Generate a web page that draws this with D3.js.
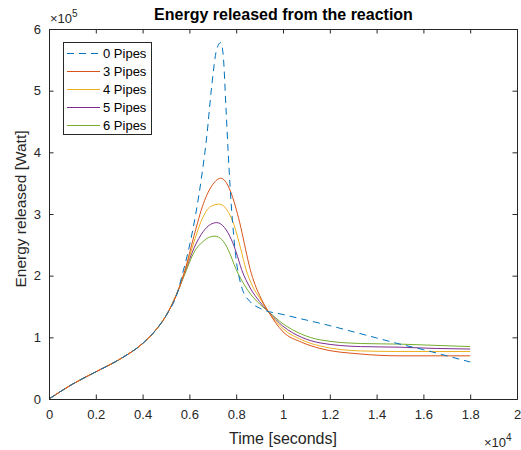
<!DOCTYPE html>
<html>
<head>
<meta charset="utf-8">
<script src="https://cdn.jsdelivr.net/npm/d3@7"></script>
<style>
  body { margin: 0; background: #fff; }
  svg { display: block; font-family: "Liberation Sans", Arial, sans-serif; }
  .tick text { fill: #262626; font-size: 13px; }
</style>
</head>
<body>
<svg width="521" height="450"></svg>
<script>
// x in units of 1e4 s, y in units of 1e5 W
const seriesNames = ["0 Pipes", "3 Pipes", "4 Pipes", "5 Pipes", "6 Pipes"];
const seriesColors = ["#0072BD", "#D95319", "#EDB120", "#7E2F8E", "#77AC30"];

// shared rising part
const baseX = [0, 0.1, 0.2, 0.3, 0.4, 0.45, 0.5, 0.55];
const baseY = [0, 0.24, 0.44, 0.64, 0.90, 1.09, 1.35, 1.74];

const pipes0X = [0.567, 0.603, 0.652, 0.674, 0.695, 0.716, 0.734, 0.745, 0.756, 0.766, 0.774, 0.795, 0.823, 0.859, 0.902, 1.0, 1.1, 1.2, 1.3, 1.4, 1.5, 1.6, 1.7, 1.8];
const pipes0Y = [1.98, 2.53, 3.6, 4.25, 5.06, 5.66, 5.78, 5.55, 4.74, 3.98, 3.44, 2.42, 1.82, 1.58, 1.47, 1.37, 1.28, 1.19, 1.09, 0.99, 0.89, 0.80, 0.70, 0.60];

const pipes3X = [0.581, 0.62, 0.66, 0.7, 0.734, 0.77, 0.8, 0.82, 0.84, 0.86, 0.88, 0.9, 0.937, 1.0, 1.08, 1.158, 1.33, 1.5, 1.65, 1.8];
const pipes3Y = [2.09, 2.65, 3.17, 3.48, 3.58, 3.42, 3.08, 2.78, 2.43, 2.1, 1.86, 1.68, 1.42, 1.09, 0.92, 0.82, 0.73, 0.70, 0.70, 0.70];

const pipes4X = [0.581, 0.62, 0.652, 0.69, 0.728, 0.76, 0.79, 0.819, 0.842, 0.87, 0.9, 0.937, 1.0, 1.08, 1.158, 1.33, 1.5, 1.65, 1.8];
const pipes4Y = [2.07, 2.55, 2.9, 3.12, 3.16, 3.07, 2.83, 2.44, 2.1, 1.83, 1.64, 1.42, 1.14, 0.96, 0.86, 0.78, 0.77, 0.77, 0.77];

const pipes5X = [0.58, 0.62, 0.66, 0.69, 0.717, 0.75, 0.78, 0.8, 0.823, 0.86, 0.9, 0.937, 1.0, 1.08, 1.158, 1.33, 1.5, 1.65, 1.8];
const pipes5Y = [2.05, 2.45, 2.72, 2.83, 2.86, 2.78, 2.58, 2.38, 2.1, 1.8, 1.58, 1.42, 1.18, 1.0, 0.91, 0.85, 0.84, 0.82, 0.81];

const pipes6X = [0.58, 0.62, 0.66, 0.69, 0.709, 0.74, 0.766, 0.8, 0.85, 0.9, 0.937, 1.0, 1.08, 1.158, 1.33, 1.5, 1.65, 1.8];
const pipes6Y = [2.02, 2.38, 2.56, 2.63, 2.64, 2.58, 2.42, 2.1, 1.76, 1.54, 1.42, 1.22, 1.05, 0.96, 0.90, 0.89, 0.87, 0.85];

const xTicks = [0, 0.2, 0.4, 0.6, 0.8, 1, 1.2, 1.4, 1.6, 1.8, 2];
const yTicks = [0, 1, 2, 3, 4, 5, 6];

const svg = d3.select("svg");
const plotLeft = 49, plotRight = 517, plotTop = 29, plotBottom = 399;

const x = d3.scaleLinear().domain([0, 2]).range([plotLeft, plotRight]);
const y = d3.scaleLinear().domain([0, 6]).range([plotBottom, plotTop]);

function zipPts(xs, ys) {
  return baseX.map((v, i) => [v, baseY[i]]).concat(xs.map((v, i) => [v, ys[i]]));
}
const series = [
  zipPts(pipes0X, pipes0Y),
  zipPts(pipes3X, pipes3Y),
  zipPts(pipes4X, pipes4Y),
  zipPts(pipes5X, pipes5Y),
  zipPts(pipes6X, pipes6Y)
];

// plot lines (drawn 6 -> 0 so blue dashed ends up on top)
const line = d3.line().x(d => x(d[0])).y(d => y(d[1])).curve(d3.curveMonotoneX);
const gLines = svg.append("g");
for (let i = series.length - 1; i >= 0; i--) {
  gLines.append("path")
    .attr("d", line(series[i]))
    .attr("fill", "none")
    .attr("stroke", seriesColors[i])
    .attr("stroke-width", 1)
    .attr("stroke-dasharray", i == 0 ? "7,5" : null);
}

// axes (ticks pointing inwards, box all round)
const axisColor = "#262626";
const tickLen = 4.5;
const fmt = d3.format("~g");
svg.append("g").attr("transform", `translate(0,${plotBottom})`)
  .call(d3.axisBottom(x).tickValues(xTicks).tickSize(-tickLen).tickPadding(11).tickFormat(fmt));
svg.append("g").attr("transform", `translate(0,${plotTop})`)
  .call(d3.axisTop(x).tickValues(xTicks).tickSize(-tickLen).tickFormat(""));
svg.append("g").attr("transform", `translate(${plotLeft},0)`)
  .call(d3.axisLeft(y).tickValues(yTicks).tickSize(-tickLen).tickPadding(8).tickFormat(fmt));
svg.append("g").attr("transform", `translate(${plotRight},0)`)
  .call(d3.axisRight(y).tickValues(yTicks).tickSize(-tickLen).tickFormat(""));
svg.selectAll(".domain").attr("stroke", axisColor);
svg.selectAll(".tick line").attr("stroke", axisColor);

// titles
svg.append("text").attr("x", 283.5).attr("y", 20).attr("text-anchor", "middle")
  .attr("font-size", 16).attr("font-weight", "bold").attr("fill", "#000")
  .text("Energy released from the reaction");
svg.append("text").attr("x", 283).attr("y", 444).attr("text-anchor", "middle")
  .attr("font-size", 16).attr("fill", axisColor).text("Time [seconds]");
svg.append("text").attr("transform", `translate(26,209) rotate(-90)`)
  .attr("text-anchor", "middle").attr("font-size", 15.5).attr("fill", axisColor)
  .text("Energy released [Watt]");

// exponent labels
const e5 = svg.append("text").attr("x", 50).attr("y", 23).attr("font-size", 13).attr("fill", axisColor);
e5.append("tspan").text("\u00d710");
e5.append("tspan").attr("dy", -6).attr("font-size", 10).text("5");
const e4 = svg.append("text").attr("x", 484).attr("y", 447).attr("font-size", 13).attr("fill", axisColor);
e4.append("tspan").text("\u00d710");
e4.append("tspan").attr("dy", -6).attr("font-size", 10).text("4");

// legend
const lg = svg.append("g");
lg.append("rect").attr("x", 63.5).attr("y", 42.5).attr("width", 88).attr("height", 92)
  .attr("fill", "#fff").attr("stroke", axisColor).attr("stroke-width", 1);
seriesNames.forEach((name, i) => {
  const yy = 53.5 + i * 18;
  lg.append("line").attr("x1", 67).attr("x2", 100).attr("y1", yy).attr("y2", yy)
    .attr("stroke", seriesColors[i]).attr("stroke-width", 1)
    .attr("stroke-dasharray", i == 0 ? "7,5" : null);
  lg.append("text").attr("x", 103).attr("y", yy + 4.5).attr("font-size", 13)
    .attr("fill", "#000").text(name);
});
</script>
</body>
</html>
